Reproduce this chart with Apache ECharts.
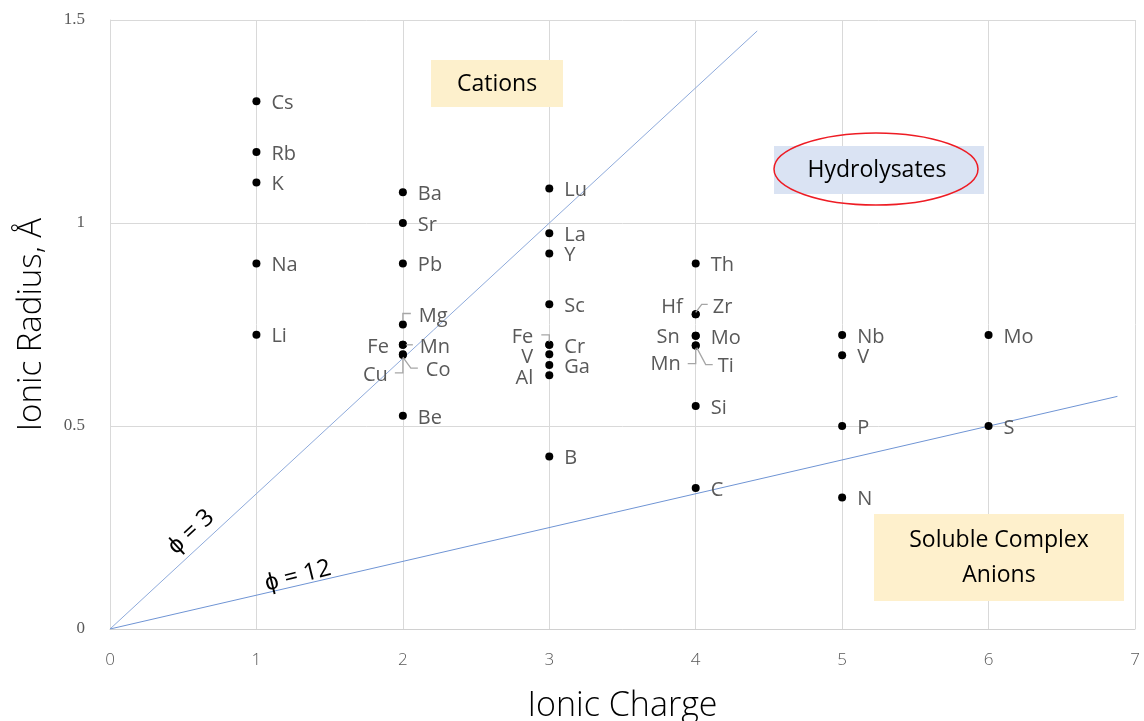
<!DOCTYPE html>
<html lang="en">
<head>
  <meta charset="UTF-8">
  <title>Ionic potential</title>
  <script src="https://cdn.jsdelivr.net/npm/echarts@6/dist/echarts.min.js"></script>
  <style>body{margin:0;background:#fff}</style>
</head>
<body>
  <div id="main" style="width:1144px;height:721px;"></div>
  <script type="text/javascript">
    // ion data
    const ionNames   = ['Cs','Rb','K','Na','Li', 'Ba','Sr','Pb','Mg','Fe','Mn','Co','Cu','Be',
                        'Lu','La','Y','Sc','Fe','Cr','V','Ga','Al','B',
                        'Th','Zr','Hf','Mo','Sn','Ti','Mn','Si','C',
                        'Nb','V','P','N', 'Mo','S'];
    const ionCharges = [1,1,1,1,1, 2,2,2,2,2,2,2,2,2,
                        3,3,3,3,3,3,3,3,3,3,
                        4,4,4,4,4,4,4,4,4,
                        5,5,5,5, 6,6];
    const ionRadii   = [1.30,1.175,1.10,0.90,0.725, 1.076,1.00,0.90,0.75,0.70,0.70,0.677,0.675,0.525,
                        1.085,0.975,0.925,0.80,0.70,0.70,0.677,0.65,0.625,0.425,
                        0.90,0.775,0.775,0.722,0.722,0.698,0.698,0.549,0.347,
                        0.724,0.674,0.50,0.324, 0.724,0.50];

    // phi lines (end points as drawn)
    const phi3Line  = [[0, 0], [4.42, 1.473]];
    const phi12Line = [[0, 0], [6.88, 0.573]];

    const xTicks = [0, 1, 2, 3, 4, 5, 6, 7];
    const yTicks = [0, 0.5, 1, 1.5];

    // label placement (style only), keyed by name@charge
    const labelLayout = {
      'Mg@2': { dx: 16, dy: -8, leader: [[0,-4],[0,-11],[8,-11]] },
      'Fe@2': { dx: -14, dy: 2, left: true },
      'Mn@2': { dx: 17, dy: 2, leader: [[3,0],[10,0]] },
      'Co@2': { dx: 23, dy: 16, leader: [[0,3],[8,14],[15,14]] },
      'Cu@2': { dx: -15, dy: 20, left: true, leader: [[0,3],[0,18],[-8,18]] },
      'Fe@3': { dx: -16, dy: -8, left: true, leader: [[0,-3],[0,-10],[-8,-10]] },
      'V@3':  { dx: -16, dy: 3, left: true },
      'Al@3': { dx: -16, dy: 3, left: true },
      'Zr@4': { dx: 17, dy: -7, leader: [[0,-2],[6,-10],[12,-10]] },
      'Hf@4': { dx: -13, dy: -7, left: true },
      'Sn@4': { dx: -16, dy: 1, left: true },
      'Ti@4': { dx: 22, dy: 21, leader: [[1,2],[10,19],[17,19]] },
      'Mn@4': { dx: -15, dy: 19, left: true, leader: [[0,3],[0,18],[-8,18]] }
    };

    const points = ionNames.map((n, i) => [ionCharges[i], ionRadii[i], i]);

    const labelFont = '"Open Sans", sans-serif';

    let options = {
      animation: false,
      grid: { left: 110, right: 9, top: 20, bottom: 92, containLabel: false, outerBoundsMode: 'none' },
      xAxis: {
        type: 'value', min: 0, max: 7, interval: 1,
        name: 'Ionic Charge', nameLocation: 'middle', nameGap: 60,
        nameTextStyle: { fontSize: 34, color: '#000', fontFamily: labelFont, fontWeight: 300 },
        axisLine: { lineStyle: { color: '#d0d0d0' } },
        axisTick: { show: false },
        axisLabel: { color: '#595959', fontSize: 17, margin: 23, fontFamily: labelFont, fontWeight: 300,
          formatter: v => xTicks.includes(v) ? String(v) : '' },
        splitLine: { lineStyle: { color: '#d9d9d9' } }
      },
      yAxis: {
        type: 'value', min: 0, max: 1.5, interval: 0.5,
        name: 'Ionic Radius, Å', nameLocation: 'middle', nameGap: 62,
        nameTextStyle: { fontSize: 33, color: '#000', fontFamily: labelFont, fontWeight: 300 },
        axisLine: { show: true, lineStyle: { color: '#d9d9d9' } },
        axisTick: { show: false },
        axisLabel: { color: '#595959', fontSize: 17, margin: 25, fontFamily: '"Liberation Serif", serif',
          formatter: v => yTicks.includes(v) ? String(v) : '' },
        splitLine: { lineStyle: { color: '#d9d9d9' } }
      },
      series: [
        {
          type: 'line', data: phi3Line, showSymbol: false, silent: true,
          lineStyle: { color: '#8eaadb', width: 1 }, z: 2
        },
        {
          type: 'line', data: phi12Line, showSymbol: false, silent: true,
          lineStyle: { color: '#6f94d4', width: 1 }, z: 2
        },
        {
          type: 'scatter', data: points, symbolSize: 8,
          itemStyle: { color: '#000', opacity: 1 }, z: 4
        },
        {
          type: 'custom', data: points, clip: false, z: 5,
          encode: { x: 0, y: 1 },
          renderItem: function (params, api) {
            const i = api.value(2);
            const p = api.coord([api.value(0), api.value(1)]);
            const key = ionNames[i] + '@' + ionCharges[i];
            const lay = labelLayout[key] || { dx: 15, dy: 2 };
            const children = [{
              type: 'text',
              style: {
                x: p[0] + lay.dx, y: p[1] + lay.dy,
                text: ionNames[i],
                fill: '#595959', fontSize: 20, fontFamily: labelFont,
                align: lay.left ? 'right' : 'left', verticalAlign: 'middle'
              }
            }];
            if (lay.leader) {
              children.push({
                type: 'polyline',
                shape: { points: lay.leader.map(q => [p[0] + q[0], p[1] + q[1]]) },
                style: { stroke: '#a6a6a6', lineWidth: 1.3, fill: null }
              });
            }
            return { type: 'group', children: children };
          }
        }
      ],
      graphic: [
        { type: 'rect', shape: { x: 431, y: 60, width: 132, height: 47 }, style: { fill: '#fdf0cc' }, z: 10 },
        { type: 'text', x: 497, y: 84, style: { text: 'Cations', fontSize: 23, fontFamily: labelFont, fill: '#000', align: 'center', verticalAlign: 'middle' }, z: 11 },

        { type: 'rect', shape: { x: 774, y: 146, width: 210, height: 48 }, style: { fill: '#dae3f3' }, z: 10 },
        { type: 'ellipse', shape: { cx: 876, cy: 169, rx: 102, ry: 36 }, style: { fill: null, stroke: '#ee1c24', lineWidth: 1.5 }, z: 11 },
        { type: 'text', x: 877, y: 170, style: { text: 'Hydrolysates', fontSize: 23, fontFamily: labelFont, fill: '#000', align: 'center', verticalAlign: 'middle' }, z: 11 },

        { type: 'rect', shape: { x: 874, y: 514, width: 250, height: 87 }, style: { fill: '#fef0cc' }, z: 10 },
        { type: 'text', x: 999, y: 558, style: { text: 'Soluble Complex\nAnions', fontSize: 23, lineHeight: 35, fontFamily: labelFont, fill: '#000', align: 'center', verticalAlign: 'middle' }, z: 11 },

        { type: 'text', x: 191, y: 532, rotation: 0.743, style: { text: 'ϕ = 3', fontSize: 24, fontFamily: labelFont, fill: '#000', align: 'center', verticalAlign: 'middle' }, z: 11 },
        { type: 'text', x: 298, y: 576, rotation: 0.245, style: { text: 'ϕ = 12', fontSize: 24, fontFamily: labelFont, fill: '#000', align: 'center', verticalAlign: 'middle' }, z: 11 }
      ]
    };

    let myChart = echarts.init(document.getElementById('main'));
    myChart.setOption(options);
  </script>
</body>
</html>
